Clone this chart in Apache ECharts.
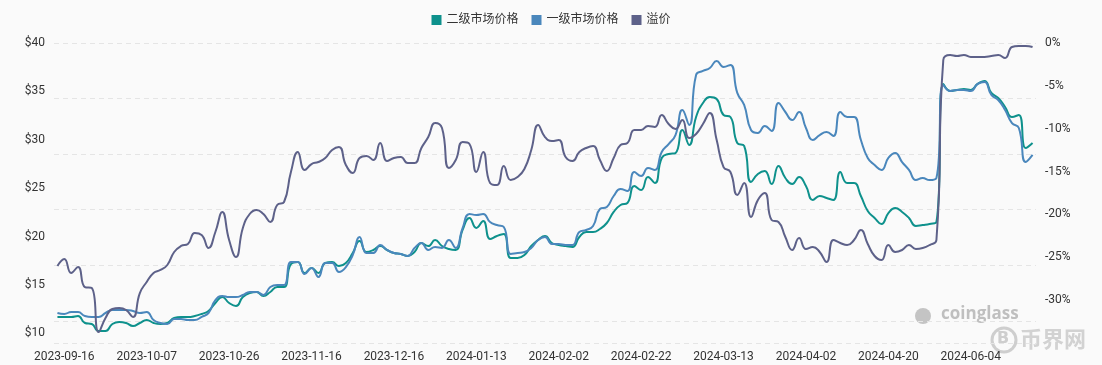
<!DOCTYPE html>
<html>
<head>
<meta charset="utf-8">
<script src="https://cdn.jsdelivr.net/npm/echarts@6/dist/echarts.min.js"></script>
<style>
html,body{margin:0;padding:0;background:#fafafa;}
#c{width:1102px;height:365px;}
</style>
</head>
<body>
<div id="c"></div>
<script>
const dates = [
'2023-09-14','2023-09-16','2023-09-17','2023-09-19','2023-09-21','2023-09-22','2023-09-24','2023-09-26','2023-09-27','2023-09-29','2023-10-01','2023-10-02','2023-10-04',
'2023-10-07','2023-10-08','2023-10-10','2023-10-11','2023-10-13','2023-10-14','2023-10-16','2023-10-18','2023-10-19','2023-10-21','2023-10-22','2023-10-24',
'2023-10-26','2023-10-28','2023-10-29','2023-10-31','2023-11-02','2023-11-03','2023-11-05','2023-11-07','2023-11-08','2023-11-10','2023-11-12','2023-11-14',
'2023-11-16','2023-11-18','2023-11-21','2023-11-23','2023-11-26','2023-11-28','2023-12-01','2023-12-03','2023-12-06','2023-12-08','2023-12-11','2023-12-13',
'2023-12-16','2023-12-18','2023-12-21','2023-12-23','2023-12-25','2023-12-28','2023-12-30','2024-01-01','2024-01-04','2024-01-06','2024-01-08','2024-01-11',
'2024-01-13','2024-01-15','2024-01-16','2024-01-18','2024-01-20','2024-01-21','2024-01-23','2024-01-25','2024-01-26','2024-01-28','2024-01-30','2024-01-31',
'2024-02-02','2024-02-04','2024-02-05','2024-02-07','2024-02-09','2024-02-10','2024-02-12','2024-02-14','2024-02-15','2024-02-17','2024-02-19','2024-02-20',
'2024-02-22','2024-02-24','2024-02-25','2024-02-27','2024-02-29','2024-03-01','2024-03-03','2024-03-05','2024-03-06','2024-03-08','2024-03-10','2024-03-11',
'2024-03-13','2024-03-15','2024-03-16','2024-03-18','2024-03-20','2024-03-21','2024-03-23','2024-03-25','2024-03-26','2024-03-28','2024-03-30','2024-03-31',
'2024-04-02','2024-04-03','2024-04-05','2024-04-06','2024-04-08','2024-04-09','2024-04-11','2024-04-12','2024-04-14','2024-04-15','2024-04-17','2024-04-18',
'2024-04-20','2024-04-24','2024-04-28','2024-05-02','2024-05-06','2024-05-10','2024-05-14','2024-05-18','2024-05-22','2024-05-25','2024-05-28','2024-06-01',
'2024-06-04','2024-06-05','2024-06-06','2024-06-07','2024-06-08','2024-06-09','2024-06-10','2024-06-11','2024-06-12','2024-06-13'
];

const secondaryPrice = [
11.69,11.69,11.69,11.79,11.07,10.96,10.24,10.24,10.96,11.17,11.07,10.76,11.07,11.38,11.07,10.96,11.07,11.58,11.69,11.69,
11.79,12.00,12.31,13.13,13.75,13.13,12.82,13.75,14.17,14.27,13.86,14.27,14.79,14.79,17.16,17.37,16.23,16.75,16.23,17.27,
17.37,16.96,17.27,18.30,19.54,18.40,18.61,19.02,18.61,18.30,18.20,17.99,18.40,19.33,19.02,19.64,19.02,18.71,18.61,20.68,
21.92,20.89,21.61,19.75,20.06,20.26,17.78,17.78,18.09,19.02,19.64,20.06,19.33,19.13,19.02,18.92,19.95,20.47,20.47,20.78,
21.40,22.54,23.26,23.47,25.22,24.81,26.15,25.53,28.12,28.53,28.63,31.01,29.46,32.35,33.80,34.42,34.21,32.56,32.35,29.67,
29.36,25.64,26.46,26.77,25.43,27.29,26.05,25.43,26.15,25.22,23.78,24.19,23.98,23.78,26.67,25.53,25.53,24.19,22.64,21.92,
21.30,22.43,22.95,22.54,21.92,21.09,21.19,21.30,21.50,35.77,35.04,35.15,35.25,35.15,35.77,36.08,34.84,34.32,33.39,32.35,
32.56,29.15,29.67
];

const primaryPrice = [
12.10,12.00,12.20,12.20,11.79,11.69,11.69,12.10,12.41,12.41,12.41,12.31,12.10,12.20,11.38,11.07,10.96,11.48,11.48,11.38,
11.38,11.69,12.10,13.44,13.86,13.75,13.75,13.96,14.27,14.27,13.96,14.79,14.99,14.99,17.37,17.37,16.13,16.75,15.82,17.27,
17.27,16.34,16.85,18.09,19.95,18.30,18.30,19.13,18.61,18.30,18.20,17.99,18.82,19.33,18.61,18.92,18.82,19.64,18.82,20.88,
22.33,22.23,22.33,21.50,21.19,20.99,18.20,18.30,18.40,18.82,19.64,19.95,19.23,19.23,19.13,19.13,20.47,20.68,21.09,22.85,
23.06,24.19,24.91,24.71,26.67,26.26,27.08,26.88,28.74,29.56,30.49,33.08,31.53,36.70,37.11,37.42,38.14,37.52,37.73,34.84,
33.60,31.01,30.70,31.42,30.91,33.80,32.87,32.04,32.87,31.22,29.98,30.49,30.80,30.39,32.87,32.35,32.35,29.98,28.12,27.39,
26.88,28.12,28.63,27.70,26.88,25.84,26.05,25.84,26.05,35.66,35.04,35.15,35.15,35.04,35.77,35.97,34.63,34.11,33.08,31.73,
31.22,27.70,28.43
];

const premium = [
-26.02,-25.20,-26.83,-26.13,-28.47,-28.58,-33.72,-32.08,-31.03,-30.92,-31.15,-31.97,-29.17,-27.88,-26.83,-26.48,-25.90,-24.38,-23.68,-23.45,
-22.17,-22.40,-23.92,-22.05,-19.72,-22.98,-24.97,-21.58,-19.95,-19.48,-19.95,-20.88,-18.90,-18.55,-15.05,-12.72,-14.82,-14.12,-13.88,-13.42,
-12.48,-12.13,-14.23,-15.17,-13.42,-13.18,-13.65,-11.67,-13.77,-13.42,-13.30,-14.00,-14.00,-12.25,-10.97,-9.33,-9.92,-14.58,-13.65,-11.55,
-11.78,-15.05,-12.72,-16.33,-16.57,-14.35,-15.98,-15.63,-14.70,-12.48,-9.57,-10.97,-11.43,-11.32,-13.30,-13.77,-12.72,-12.25,-12.02,-13.65,
-14.93,-13.42,-11.90,-11.67,-10.15,-10.15,-9.68,-9.80,-8.40,-9.45,-10.03,-8.98,-11.08,-10.62,-9.45,-8.17,-11.32,-14.47,-15.05,-17.73,
-16.33,-20.30,-18.32,-17.50,-20.65,-20.88,-22.63,-24.15,-22.75,-24.03,-23.80,-24.38,-25.55,-22.98,-23.33,-23.57,-22.98,-21.82,-23.45,-24.85,
-25.32,-23.57,-24.38,-24.15,-23.57,-24.03,-23.92,-23.57,-22.98,-1.98,-1.40,-1.52,-1.40,-1.63,-1.63,-1.63,-1.52,-1.40,-1.75,-0.47,
-0.35,-0.35,-0.47
];

const priceTicks = [10, 15, 20, 25, 30, 35, 40];
const premiumTicks = [0, -5, -10, -15, -20, -25, -30];
const seriesNames = ['二级市场价格', '一级市场价格', '溢价'];

const FONT = 'Roboto, "Noto Sans CJK SC", sans-serif';
const chart = echarts.init(document.getElementById('c'), null, {renderer: 'canvas'});
chart.setOption({
  backgroundColor: '#fafafa',
  animation: false,
  color: ['#0e918c', '#4a87bc', '#5d6189'],
  textStyle: {fontFamily: FONT},
  legend: {
    data: seriesNames,
    top: 9,
    left: 'center',
    icon: 'rect',
    itemWidth: 10,
    itemHeight: 10,
    itemGap: 13,
    textStyle: {fontSize: 12, color: '#333', fontFamily: FONT}
  },
  grid: {left: 54, right: 66, top: 43, bottom: 22, containLabel: false},
  xAxis: {
    type: 'category',
    data: dates,
    boundaryGap: true,
    axisLine: {show: false},
    axisTick: {show: false},
    axisLabel: {
      interval: function (idx) { return idx % 12 === 1; },
      color: '#333', fontSize: 12, margin: 8, fontFamily: FONT
    },
    splitLine: {show: false}
  },
  yAxis: [
    {
      type: 'value', position: 'left', min: 9, max: 40,
      axisLine: {show: false}, axisTick: {show: false},
      splitLine: {show: false},
      axisLabel: {customValues: priceTicks, formatter: '${value}', color: '#333', fontSize: 12, margin: 9, fontFamily: FONT}
    },
    {
      type: 'value', position: 'right', min: -35, max: 0,
      axisLine: {show: false}, axisTick: {show: false},
      splitLine: {show: false},
      axisLabel: {customValues: premiumTicks, formatter: '{value}%', color: '#333', fontSize: 12, margin: 9, fontFamily: FONT}
    },
    {
      type: 'value', position: 'left', min: 0, max: 5.4, interval: 1, inverse: true,
      axisLine: {show: false}, axisTick: {show: false},
      axisLabel: {show: false},
      splitLine: {show: true, lineStyle: {color: '#e5e5e5', type: [5, 4], width: 1}}
    }
  ],
  series: [
    {name: seriesNames[0], type: 'line', yAxisIndex: 0, data: secondaryPrice, smooth: 0.5, showSymbol: false, lineStyle: {width: 2}},
    {name: seriesNames[1], type: 'line', yAxisIndex: 0, data: primaryPrice, smooth: 0.5, showSymbol: false, lineStyle: {width: 2}},
    {name: seriesNames[2], type: 'line', yAxisIndex: 1, data: premium, smooth: 0.5, showSymbol: false, lineStyle: {width: 2}}
  ],
  graphic: [
    {type: 'text', left: 941, top: 306, z: 0, style: {text: 'coinglass', font: 'bold 17px "Open Sans", sans-serif', fill: '#bfbfbf'}},
    {type: 'circle', shape: {cx: 923, cy: 316, r: 8}, z: 0, style: {fill: '#c4c4c4'}},
    {type: 'circle', shape: {cx: 1004, cy: 340, r: 12}, z: 0, style: {fill: 'none', stroke: 'rgba(170,170,170,0.55)', lineWidth: 3}},
    {type: 'text', left: 997, top: 331, z: 0, style: {text: 'B', font: 'bold 16px "DejaVu Sans", sans-serif', fill: 'rgba(170,170,170,0.55)'}},
    {type: 'text', left: 1020, top: 328, z: 0, style: {text: '币界网', font: 'bold 22px "Noto Sans CJK SC", sans-serif', fill: 'rgba(170,170,170,0.5)'}}
  ]
});
</script>
</body>
</html>
